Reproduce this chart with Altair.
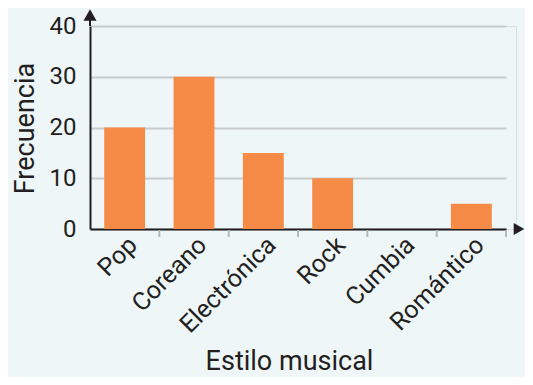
import altair as alt
import pandas as pd

estilos = ["Pop", "Coreano", "Electrónica", "Rock", "Cumbia", "Romántico"]
frecuencias = [20, 30, 15, 10, 0, 5]
y_ticks = [0, 10, 20, 30, 40]

df = pd.DataFrame({"estilo": estilos, "frecuencia": frecuencias})
one = pd.DataFrame({"k": [0]})

W, H = 426, 203
FONT = "Roboto"
TEXT = "#231f20"
BAR = "#F68B48"
GRID = "#c8cccd"

x_scale = alt.Scale(domain=estilos, range=[0, 416], paddingInner=0, paddingOuter=0)
y_scale = alt.Scale(domain=[0, 40], nice=False)

x_axis = alt.Axis(
    title="Estilo musical", labelAngle=-45, labelAlign="right", labelBaseline="top",
    labelFontSize=25, labelPadding=3, ticks=False, domainColor=TEXT, domainWidth=2,
    titleFontSize=27, titleX=199, titleY=140, titleBaseline="alphabetic",
    titleFontWeight="normal", labelColor=TEXT, titleColor=TEXT, labelFont=FONT,
    titleFont=FONT, grid=False,
)
y_axis = alt.Axis(
    title="Frecuencia", values=y_ticks, ticks=False, domainColor=TEXT, domainWidth=2,
    gridColor=GRID, gridWidth=2, labelFontSize=24, labelPadding=14, labelColor=TEXT,
    labelFont=FONT, titleFont=FONT, titleFontSize=27, titleFontWeight="normal",
    titleColor=TEXT, titleAngle=-90, titleX=-65, titleY=102, titleAlign="center",
    titleBaseline="middle",
)

bars = alt.Chart(df).mark_bar(color=BAR, width=alt.RelativeBandSize(0.59)).encode(
    x=alt.X("estilo:N", scale=x_scale, sort=estilos, axis=x_axis),
    y=alt.Y("frecuencia:Q", scale=y_scale, axis=y_axis),
)

seps = alt.Chart(df).mark_rule(color="#b5babc", strokeWidth=2).encode(
    x=alt.X("estilo:N", bandPosition=1, sort=estilos),
    y=alt.value(H + 1),
    y2=alt.value(H + 8),
)

y_ext = alt.Chart(one).mark_rule(color=TEXT, strokeWidth=2).encode(
    x=alt.value(0), y=alt.value(-8), y2=alt.value(0)
)
x_ext = alt.Chart(one).mark_rule(color=TEXT, strokeWidth=2).encode(
    x=alt.value(W - 2), x2=alt.value(W + 2), y=alt.value(H)
)
arrow_up = alt.Chart(one).mark_point(
    shape="triangle-up", filled=True, color=TEXT, size=170, opacity=1
).encode(x=alt.value(0), y=alt.value(-11))
arrow_right = alt.Chart(one).mark_point(
    shape="triangle-right", filled=True, color=TEXT, size=150, opacity=1
).encode(x=alt.value(W + 3), y=alt.value(H))

chart = alt.layer(seps, bars, y_ext, x_ext, arrow_up, arrow_right).properties(
    width=W, height=H,
    autosize=alt.AutoSizeParams(type="none"),
    padding={"left": 82, "top": 18, "right": 9, "bottom": 148},
    background="#eef6f8",
).configure_view(stroke=None, fill="#f6fcfd").configure(font=FONT)

chart.save("out.html", embed_options={"renderer": "svg", "actions": False})
